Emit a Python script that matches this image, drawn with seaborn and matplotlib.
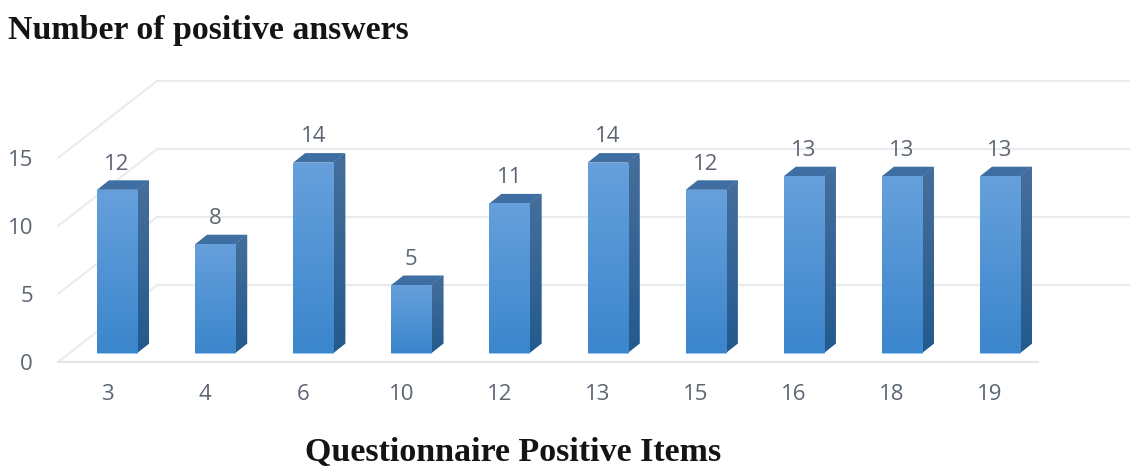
import numpy as np
import matplotlib
matplotlib.use("Agg")
import matplotlib.pyplot as plt
from matplotlib.colors import LinearSegmentedColormap
from matplotlib.patches import Polygon
from matplotlib.transforms import ScaledTranslation
import seaborn as sns

items = ["3", "4", "6", "10", "12", "13", "15", "16", "18", "19"]
positives = [12, 8, 14, 5, 11, 14, 12, 13, 13, 13]
y_ticks = [0, 5, 10, 15]
title = "Number of positive answers"
x_title = "Questionnaire Positive Items"

W, H = 1130, 468
sns.set_theme(style="white")
plt.rcParams["font.family"] = ["Open Sans", "DejaVu Sans"]
fig = plt.figure(figsize=(W / 100, H / 100), dpi=100, facecolor="white")

# layout in pixels
ax_l, ax_r, ax_b, ax_t = 58, 1038, 362, 158
ax = fig.add_axes([ax_l / W, 1 - ax_b / H, (ax_r - ax_l) / W, (ax_b - ax_t) / H])
step = 98.1
xlim = (-(117 - ax_l) / step, 9 + (ax_r - 1000) / step)
ylim = (0, 15)
px_y = (ax_b - ax_t) / 15


def to_x(px):
    return xlim[0] + (px - ax_l) / step


sns.barplot(x=items, y=positives, color="#4a8ed2", width=40 / step, ax=ax,
            edgecolor="#9cc6ee", linewidth=0.7, zorder=3)

grid = "#e9ebee"
bar_dx, bar_dy = 12 / step, 9.5 / px_y
lift = 9 / px_y
wall_dx, wall_dy = 99 / step, 77 / px_y

# walls and floor behind the bars
for t in y_ticks:
    ax.plot([xlim[0], xlim[0] + wall_dx], [t, t + wall_dy], color=grid, lw=1.5,
            clip_on=False, zorder=1, solid_capstyle="round")
    ax.plot([xlim[0] + wall_dx, to_x(W)], [t + wall_dy, t + wall_dy], color=grid, lw=1.6,
            clip_on=False, zorder=1)
ax.plot(xlim, [0, 0], color="#e6e6e8", lw=1.6, clip_on=False, zorder=1)


def gradient(patch, top, bottom, extent, z):
    cmap = LinearSegmentedColormap.from_list("g", [top, bottom])
    im = ax.imshow(np.linspace(0, 1, 64).reshape(-1, 1), cmap=cmap, aspect="auto",
                   extent=extent, origin="upper", zorder=z, clip_on=True)
    im.set_clip_path(patch)


bars = ax.containers[0]
for bar in bars:
    bar.set_y(lift)
    bar.set_clip_on(False)
    x0, w, h = bar.get_x(), bar.get_width(), bar.get_height()
    x1, y0, y1 = x0 + w, lift, lift + h
    gradient(bar, "#66a0dc", "#3b86cc", (x0, x1, y0, y1), 3.2)
    side = Polygon([(x1, y0), (x1 + bar_dx, y0 + bar_dy), (x1 + bar_dx, y1 + bar_dy), (x1, y1)],
                   closed=True, facecolor="#34659a", edgecolor="none", zorder=2.6, clip_on=False)
    ax.add_patch(side)
    gradient(side, "#456f9c", "#245a8e", (x1, x1 + bar_dx, y0, y1 + bar_dy), 2.7)
    top = Polygon([(x0, y1), (x1, y1), (x1 + bar_dx, y1 + bar_dy), (x0 + bar_dx, y1 + bar_dy)],
                  closed=True, facecolor="#3f6fa2", edgecolor="none", zorder=2.8, clip_on=False)
    ax.add_patch(top)

text_c = "#5c6672"
ax.bar_label(bars, labels=[str(v) for v in positives], padding=11, fontsize=16, color=text_c,
             zorder=5, clip_on=False)

ax.set_xlim(xlim)
ax.set_ylim(ylim)
ax.set_yticks(y_ticks)
ax.set_yticklabels([str(t) for t in y_ticks])
ax.tick_params(axis="y", length=0, pad=18, labelsize=16, labelcolor=text_c)
ax.tick_params(axis="x", length=0, pad=16, labelsize=16, labelcolor=text_c)
shift = ScaledTranslation(-10 / 100, 0, fig.dpi_scale_trans)
for lab in ax.get_xticklabels():
    lab.set_transform(lab.get_transform() + shift)
for s in ax.spines.values():
    s.set_visible(False)
ax.patch.set_alpha(0)

serif = ["Liberation Serif", "DejaVu Serif"]
ax.set_xlabel(x_title, fontsize=24.5, fontweight="bold", family=serif, color="#141414", va="center")
ax.xaxis.set_label_coords((513 - ax_l) / (ax_r - ax_l), -(453 - ax_b) / (ax_b - ax_t))
fig.text(8 / W, 1 - 30 / H, title, fontsize=24.4, fontweight="bold", family=serif,
         color="#141414", va="center", ha="left")

fig.savefig("out.png", dpi=100, facecolor="white")
